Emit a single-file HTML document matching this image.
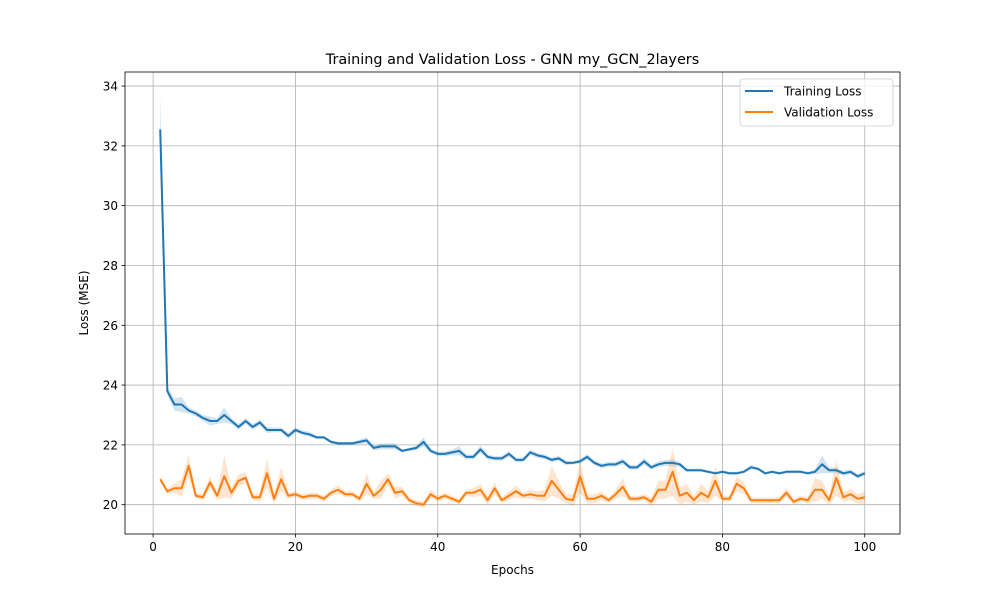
<!DOCTYPE html>
<html><head><meta charset="utf-8"><style>
body{margin:0;background:#fff;font-family:"Liberation Sans","DejaVu Sans",sans-serif}
</style></head><body>
<svg id="chart" width="1000" height="600" xmlns="http://www.w3.org/2000/svg" font-family="DejaVu Sans, Liberation Sans, sans-serif"></svg>
<script>
const epochs=[];for(let i=1;i<=100;i++)epochs.push(i);
const trainLoss=[32.55,23.8,23.35,23.35,23.15,23.05,22.9,22.8,22.8,23.0,22.8,22.6,22.8,22.6,22.75,22.5,22.5,22.5,22.3,22.5,22.4,22.35,22.25,22.25,22.1,22.05,22.05,22.05,22.1,22.15,21.9,21.95,21.95,21.95,21.8,21.85,21.9,22.1,21.8,21.7,21.7,21.75,21.8,21.6,21.6,21.85,21.6,21.55,21.55,21.7,21.5,21.5,21.75,21.65,21.6,21.5,21.55,21.4,21.4,21.45,21.6,21.4,21.3,21.35,21.35,21.45,21.25,21.25,21.45,21.25,21.35,21.4,21.4,21.35,21.15,21.15,21.15,21.1,21.05,21.1,21.05,21.05,21.1,21.25,21.2,21.05,21.1,21.05,21.1,21.1,21.1,21.05,21.1,21.35,21.15,21.15,21.05,21.1,20.95,21.05];
const trainStd=[1.2,0.15,0.2,0.25,0.1,0.1,0.1,0.15,0.1,0.25,0.1,0.1,0.1,0.1,0.1,0.1,0.08,0.08,0.1,0.08,0.08,0.08,0.05,0.05,0.05,0.05,0.05,0.05,0.08,0.1,0.08,0.1,0.1,0.1,0.05,0.05,0.08,0.15,0.08,0.08,0.08,0.1,0.15,0.08,0.08,0.12,0.08,0.08,0.08,0.1,0.08,0.08,0.1,0.08,0.08,0.08,0.08,0.08,0.05,0.08,0.1,0.08,0.08,0.08,0.08,0.1,0.08,0.08,0.12,0.08,0.1,0.1,0.12,0.08,0.05,0.05,0.05,0.05,0.05,0.05,0.05,0.05,0.05,0.08,0.05,0.05,0.05,0.05,0.05,0.05,0.05,0.05,0.08,0.3,0.1,0.1,0.08,0.08,0.08,0.08];
const valLoss=[20.85,20.45,20.55,20.55,21.3,20.3,20.25,20.75,20.3,20.95,20.4,20.8,20.9,20.25,20.25,21.05,20.2,20.85,20.3,20.35,20.25,20.3,20.3,20.2,20.4,20.5,20.35,20.35,20.2,20.7,20.3,20.5,20.85,20.4,20.45,20.15,20.05,20.0,20.35,20.2,20.3,20.2,20.1,20.4,20.4,20.5,20.15,20.55,20.15,20.3,20.45,20.3,20.35,20.3,20.3,20.8,20.5,20.2,20.15,20.95,20.2,20.2,20.3,20.15,20.35,20.6,20.2,20.2,20.25,20.1,20.5,20.5,21.1,20.3,20.4,20.15,20.4,20.25,20.8,20.2,20.2,20.7,20.55,20.15,20.15,20.15,20.15,20.15,20.4,20.1,20.2,20.15,20.5,20.5,20.15,20.9,20.25,20.35,20.2,20.25];
const valStd=[0.1,0.1,0.15,0.3,0.4,0.1,0.1,0.2,0.15,0.7,0.2,0.2,0.2,0.1,0.15,0.5,0.15,0.4,0.1,0.1,0.1,0.1,0.1,0.1,0.1,0.15,0.1,0.1,0.1,0.35,0.1,0.3,0.2,0.2,0.15,0.1,0.1,0.1,0.15,0.1,0.1,0.1,0.1,0.1,0.15,0.2,0.15,0.2,0.1,0.15,0.2,0.1,0.15,0.15,0.2,0.5,0.3,0.15,0.2,0.55,0.15,0.15,0.15,0.1,0.15,0.3,0.1,0.1,0.1,0.15,0.3,0.3,0.8,0.3,0.3,0.15,0.3,0.2,0.5,0.1,0.1,0.25,0.2,0.1,0.1,0.1,0.1,0.1,0.15,0.1,0.1,0.1,0.4,0.3,0.15,0.6,0.15,0.2,0.15,0.2];
const xTicks=[0,20,40,60,80,100];
const yTicks=[20,22,24,26,28,30,32,34];

const svg=document.getElementById('chart');
const NS='http://www.w3.org/2000/svg';
const L=125,R=900,T=72,B=534;
const xMin=-3.95,xMax=104.95,yMin=19.02,yMax=34.47;
const xs=v=>L+(v-xMin)/(xMax-xMin)*(R-L);
const ys=v=>B-(v-yMin)/(yMax-yMin)*(B-T);
function mk(tag,attrs,parent){const e=document.createElementNS(NS,tag);for(const k in attrs)e.setAttribute(k,attrs[k]);(parent||svg).appendChild(e);return e;}

const grid=mk('g',{});


xTicks.forEach(t=>{
  mk('line',{x1:xs(t),x2:xs(t),y1:T,y2:B,stroke:'#b0b0b0','stroke-width':0.8},grid);
  mk('line',{x1:xs(t),x2:xs(t),y1:B,y2:B+3.5,stroke:'#000','stroke-width':0.8},grid);
  const tx=mk('text',{x:xs(t),y:B+17,'font-size':12,'text-anchor':'middle',fill:'#000'});
  tx.textContent=t;
  
  
});
yTicks.forEach(t=>{
  mk('line',{x1:L,x2:R,y1:ys(t),y2:ys(t),stroke:'#b0b0b0','stroke-width':0.8},grid);
  mk('line',{x1:L-3.5,x2:L,y1:ys(t),y2:ys(t),stroke:'#000','stroke-width':0.8},grid);
  const tx=mk('text',{x:L-7,y:ys(t)+4.5,'font-size':12,'text-anchor':'end',fill:'#000'});
  tx.textContent=t;
  
  
});

function band(vals,std,color,name){
  let d='';
  vals.forEach((v,i)=>{d+=(i?'L':'M')+xs(epochs[i])+','+ys(v+std[i]);});
  for(let i=vals.length-1;i>=0;i--)d+='L'+xs(epochs[i])+','+ys(vals[i]-std[i]);
  const p=mk('path',{d:d+'Z',fill:color,'fill-opacity':0.2,stroke:'none'});
  
  
}
function line(vals,color,name){
  const d=vals.map((v,i)=>(i?'L':'M')+xs(epochs[i])+','+ys(v)).join('');
  const p=mk('path',{d,fill:'none',stroke:color,'stroke-width':2,'stroke-linejoin':'round'});
  
  
}
band(trainLoss,trainStd,'#1f77b4','training-loss-band');
band(valLoss,valStd,'#ff7f0e','validation-loss-band');
line(trainLoss,'#1f77b4','training-loss-line');
line(valLoss,'#ff7f0e','validation-loss-line');

const frame=mk('rect',{x:L,y:T,width:R-L,height:B-T,fill:'none',stroke:'#000','stroke-width':0.8});



const title=mk('text',{x:(L+R)/2,y:T-8,'font-size':14.4,'text-anchor':'middle'});
title.textContent='Training and Validation Loss - GNN my_GCN_2layers';


const xl=mk('text',{x:(L+R)/2,y:574,'font-size':12,'text-anchor':'middle'});
xl.textContent='Epochs';


const yl=mk('text',{x:0,y:0,'font-size':12,'text-anchor':'middle',transform:'translate(88,'+((T+B)/2)+') rotate(-90)'});
yl.textContent='Loss (MSE)';



const lg=mk('g',{});


mk('rect',{x:740,y:79,width:153,height:47,rx:3,fill:'#fff','fill-opacity':0.8,stroke:'#ccc','stroke-width':0.8},lg);
[['Training Loss','#1f77b4',91],['Validation Loss','#ff7f0e',112]].forEach(([n,c,y])=>{
  const e=mk('g',{},lg);
  
  
  mk('line',{x1:745,x2:773,y1:y,y2:y,stroke:c,'stroke-width':2},e);
  const t=mk('text',{x:784,y:y+4.5,'font-size':12},e);t.textContent=n;
});
</script>
</body></html>
